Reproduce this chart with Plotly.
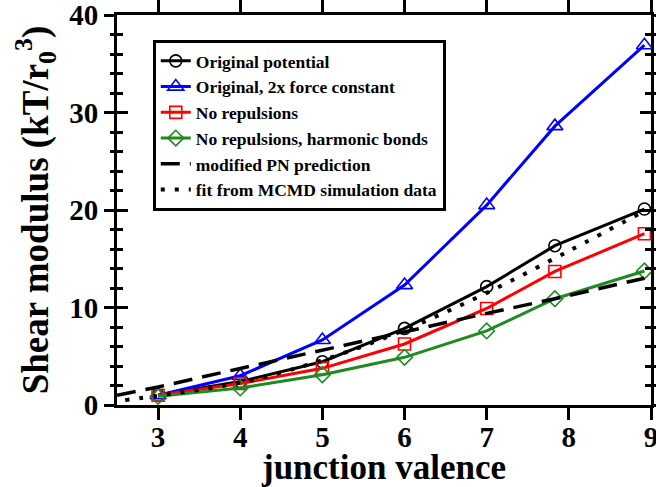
import plotly.graph_objects as go

# Junction valence of each network (x) and measured shear moduli (kT/r0^3)
valence = [3, 4, 5, 6, 7, 7.83, 8.92]
original = [1.0, 2.4, 4.44, 7.86, 12.14, 16.34, 20.1]
original_2x = [1.0, 3.0, 6.67, 12.3, 20.5, 28.6, 36.9]
no_repulsions = [1.0, 2.2, 3.76, 6.26, 9.9, 13.7, 17.57]
no_rep_harmonic = [0.9, 1.75, 3.1, 4.89, 7.6, 10.9, 13.74]

# Modified phantom-network prediction
pn_valence = [2.5, 3, 4, 5, 6, 7, 7.83, 8.92]
pn_modulus = [1.0, 1.85, 3.75, 5.6, 7.5, 9.4, 10.9, 13.0]

# Fit to the MCMD simulation data
fit_valence = [2.6, 3, 4, 5, 6, 7, 8, 8.92]
fit_modulus = [0.5, 0.95, 2.3, 4.6, 7.7, 11.5, 15.8, 19.9]

x_ticks = [3, 4, 5, 6, 7, 8, 9]
y_ticks = [0, 10, 20, 30, 40]

FONT = "Liberation Serif"
GREEN = "#1f8a1f"

fig = go.Figure()

series = [
    ("Original potential", original, "black", "circle-open", 12),
    ("Original, 2x force constant", original_2x, "#0000ff", "triangle-up-open", 14),
    ("No repulsions", no_repulsions, "#ff0000", "square-open", 12),
    ("No repulsions, harmonic bonds", no_rep_harmonic, GREEN, "diamond-open", 12),
]
for name, vals, color, sym, size in series:
    fig.add_trace(go.Scatter(
        x=valence, y=vals, name=name, mode="lines+markers",
        line=dict(color=color, width=3),
        marker=dict(symbol=sym, size=size, color=color, line=dict(color=color, width=1.6)),
    ))

fig.add_trace(go.Scatter(
    x=pn_valence, y=pn_modulus, name="modified PN prediction", mode="lines",
    line=dict(color="black", width=3.5, dash="19px,10px"),
))
fig.add_trace(go.Scatter(
    x=fit_valence, y=fit_modulus, name="fit from MCMD simulation data", mode="lines",
    line=dict(color="black", width=4, dash="4px,10px", shape="spline"),
))

# empty trace that registers the overlay axis carrying the inward tick marks
fig.add_trace(go.Scatter(x=[], y=[], yaxis="y2", showlegend=False, hoverinfo="skip"))

tick_font = dict(family=FONT, size=29, color="black", weight="bold")

fig.update_layout(
    width=656, height=487,
    margin=dict(l=117, r=5, t=15, b=82, autoexpand=False),
    paper_bgcolor="white", plot_bgcolor="white",
    showlegend=True,
    legend=dict(
        x=0.067, y=0.936, xanchor="left", yanchor="top",
        bgcolor="white", bordercolor="black", borderwidth=3,
        font=dict(family=FONT, size=17.5, color="black", weight="bold"),
        tracegroupgap=0, itemwidth=30,
    ),
    xaxis=dict(
        range=[2.5, 9], tickvals=x_ticks, ticktext=[str(v) for v in x_ticks],
        automargin=False, ticklabeloverflow="allow", ticklabelstandoff=-8,
        showgrid=False, zeroline=False,
        showline=True, linecolor="black", linewidth=3, mirror="allticks",
        ticks="outside", ticklen=12, tickwidth=3, tickcolor="black",
        tickfont=tick_font,
        title=dict(text="junction valence", font=dict(family=FONT, size=35, color="black", weight="bold"), standoff=6),
    ),
    yaxis=dict(
        range=[0, 40], tickvals=y_ticks, ticktext=[str(v) for v in y_ticks],
        automargin=False, ticklabeloverflow="allow",
        showgrid=False, zeroline=False,
        showline=True, linecolor="black", linewidth=3, mirror="allticks",
        ticks="outside", ticklen=10, tickwidth=3, tickcolor="black",
        minor=dict(dtick=2, ticks="outside", ticklen=4, tickwidth=3, tickcolor="black", showgrid=False),
        tickfont=tick_font,
        title=dict(text="Shear modulus (kT/r<sub>0</sub><sup>3</sup>)",
                   font=dict(family=FONT, size=37, color="black", weight="bold"), standoff=10),
    ),
    yaxis2=dict(
        range=[0, 40], overlaying="y", side="left", anchor="x",
        tickvals=y_ticks, showticklabels=False, automargin=False,
        showgrid=False, zeroline=False,
        showline=True, linecolor="black", linewidth=3, mirror="allticks",
        ticks="inside", ticklen=11, tickwidth=3, tickcolor="black",
        minor=dict(dtick=2, ticks="inside", ticklen=6, tickwidth=3, tickcolor="black", showgrid=False),
    ),
)

fig.write_html("out.html")
